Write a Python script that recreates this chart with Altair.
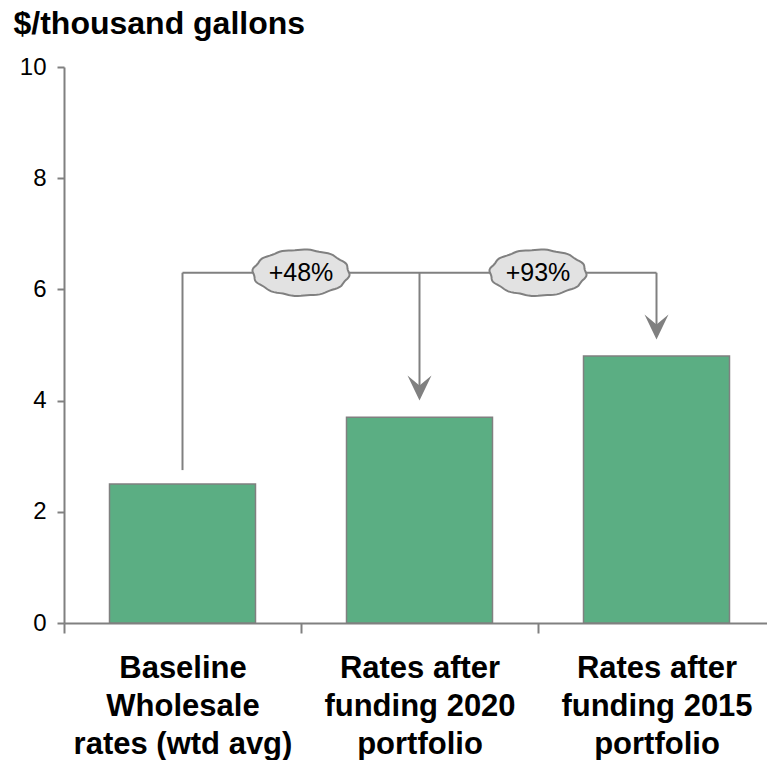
import altair as alt
import pandas as pd
import numpy as np

# ---- data ----
categories = [
    "Baseline|Wholesale|rates (wtd avg)",
    "Rates after|funding 2020|portfolio",
    "Rates after|funding 2015|portfolio",
]
values = [2.5, 3.7, 4.8]
change_labels = ["+48%", "+93%"]
connector_level = 6.3
start_gap = 0.25
arrow_gap = 0.3

GREY = "#808080"
FONT = "Liberation Sans"

bars_df = pd.DataFrame({"cat": categories, "value": values})
hline_df = pd.DataFrame({"cat": categories, "level": [connector_level] * 3})
vlines_df = pd.DataFrame({
    "cat": categories,
    "start": [values[0] + start_gap, values[1] + arrow_gap + 0.2, values[2] + arrow_gap + 0.2],
    "level": [connector_level] * 3,
})
arrows_df = pd.DataFrame({"cat": categories[1:], "tip": [v + arrow_gap for v in values[1:]]})
bubbles_df = pd.DataFrame({"cat": categories[1:], "label": change_labels, "level": [connector_level] * 2})

# cloud-like ellipse path (style only)
theta = np.linspace(0, 2 * np.pi, 97)
rad = 1 + 0.018 * np.sin(12 * theta)
px = rad * np.cos(theta)
py = 0.48 * rad * np.sin(theta)
cloud_path = "M" + " L".join(f"{a:.3f},{b:.3f}" for a, b in zip(px, py)) + " Z"
arrow_path = "M0,1 L-0.96,-1 L0,-0.2 L0.96,-1 Z"

xscale = alt.Scale(domain=categories, paddingInner=0, paddingOuter=0, range=[0, 711])
yscale = alt.Scale(domain=[0, 10])

x_axis = alt.Axis(
    title=None, tickBand="extent", labelAngle=0,
    domainColor=GREY, domainWidth=2, tickColor=GREY, tickWidth=2, tickSize=10,
    labelFont=FONT, labelFontWeight="bold", labelFontSize=31, labelColor="black",
    labelPadding=20, labelLineHeight=38, labelLimit=400,
    labelExpr="split(datum.label, '|')",
)
y_axis = alt.Axis(
    values=[0, 2, 4, 6, 8, 10], grid=False,
    domainColor=GREY, domainWidth=2, tickColor=GREY, tickWidth=2, tickSize=7,
    labelFont=FONT, labelFontSize=24, labelColor="black", labelPadding=11,
    title="$/thousand gallons", titleAngle=0, titleAlign="left", titleBaseline="alphabetic",
    titleX=-51, titleY=-34, titleFont=FONT, titleFontSize=32, titleFontWeight="bold",
    titleColor="black",
)

X = alt.X("cat:N", sort=categories, scale=xscale, axis=x_axis)
XB = alt.X("cat:N", sort=categories, scale=xscale, axis=x_axis, bandPosition=0)
Y = lambda f: alt.Y(f, scale=yscale, axis=y_axis)

bars = alt.Chart(bars_df).mark_bar(
    width=alt.RelativeBandSize(0.616), color="#5bae83", stroke=GREY, strokeWidth=1.5
).encode(x=X, y=Y("value:Q"))

hline = alt.Chart(hline_df).mark_line(color=GREY, strokeWidth=2).encode(
    x=X, y=Y("level:Q"),
)

vlines = alt.Chart(vlines_df).mark_rule(color=GREY, strokeWidth=2).encode(
    x=X, y=Y("start:Q"), y2="level:Q",
)

arrows = alt.Chart(arrows_df).mark_point(
    shape=arrow_path, filled=True, color=GREY, opacity=1, size=625, yOffset=-12.5
).encode(x=X, y=Y("tip:Q"))

bubbles = alt.Chart(bubbles_df).mark_point(
    shape=cloud_path, filled=True, fill="#e2e2e2", fillOpacity=1,
    stroke=GREY, strokeWidth=2, strokeOpacity=1, opacity=1, size=9216
).encode(x=XB, y=Y("level:Q"))

bubble_text = alt.Chart(bubbles_df).mark_text(
    font=FONT, fontSize=25, color="black", baseline="middle", align="center"
).encode(x=XB, y=Y("level:Q"), text="label:N")

chart = alt.layer(bars, hline, vlines, arrows, bubbles, bubble_text).properties(
    width=703, height=556,
    background="white",
    autosize=alt.AutoSizeParams(type="none"),
    padding={"left": 64, "top": 67, "right": 0, "bottom": 137},
).configure_view(stroke=None)

chart.save("out.html", embed_options={"renderer": "svg", "actions": False})
